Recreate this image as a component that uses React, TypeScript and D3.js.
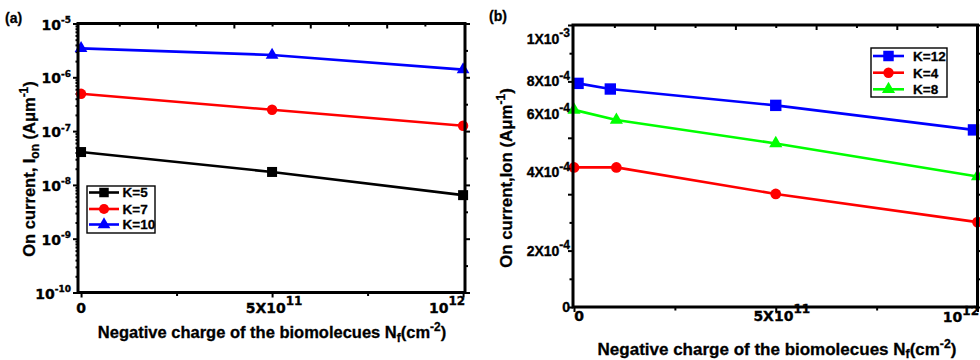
import { useEffect, useRef } from "react";
import * as d3 from "d3";

const FONT = "'Liberation Sans', Arial, sans-serif";
const TICK_FONT = "'DejaVu Sans', sans-serif";

// panel (a): log scale, three K values
const nfA = [0, 5e11, 1e12];
const ionK5 = [4.08e-8, 1.74e-8, 6.45e-9];
const ionK7 = [4.93e-7, 2.49e-7, 1.26e-7];
const ionK10 = [3.45e-6, 2.6e-6, 1.39e-6];
const decadesA = [-10, -9, -8, -7, -6, -5];

// panel (b): linear scale, four charge values
const nfB12 = [1e10, 9e10, 5e11, 9.9e11];
const nfB = [0, 1.05e11, 5e11, 1e12];
const ionK12 = [7.93e-4, 7.73e-4, 7.15e-4, 6.28e-4];
const ionK4 = [4.95e-4, 4.95e-4, 4.01e-4, 3.01e-4];
const ionK8 = [6.99e-4, 6.63e-4, 5.8e-4, 4.63e-4];
const yTicksB = [0, 2e-4, 4e-4, 6e-4, 8e-4, 1e-3];
const yTickBase = ["0", "2X10", "4X10", "6X10", "8X10", "1X10"];
const yTickSup = ["", "-4", "-4", "-4", "-4", "-3"];
// where the original figure actually printed each tick label (it is offset on some)
const yTickLabelAt = [0, 2e-4, 4.77e-4, 6.86e-4, 8e-4, 9.52e-4];

type Shape = "square" | "circle" | "triangle";
interface Series { label: string; color: string; shape: Shape; x: number[]; y: number[] }

const seriesA: Series[] = [
    { label: "K=5", color: "#000000", shape: "square", x: nfA, y: ionK5 },
    { label: "K=7", color: "#ff0000", shape: "circle", x: nfA, y: ionK7 },
    { label: "K=10", color: "#0000ff", shape: "triangle", x: nfA, y: ionK10 },
];
const seriesB: Series[] = [
    { label: "K=12", color: "#0000ff", shape: "square", x: nfB12, y: ionK12 },
    { label: "K=4", color: "#ff0000", shape: "circle", x: nfB, y: ionK4 },
    { label: "K=8", color: "#00ff00", shape: "triangle", x: nfB, y: ionK8 },
];

const symType = { square: d3.symbolSquare, circle: d3.symbolCircle, triangle: d3.symbolTriangle };

type G = d3.Selection<SVGGElement, unknown, null, undefined>;

function supText ( g: G, x: number, y: number, base: string, sup: string, anchor: string, font: string, size: number, supSize: number, rise: number )
{
    const t = g.append( "text" ).attr( "x", x ).attr( "y", y ).attr( "text-anchor", anchor )
        .style( "font-family", font ).style( "font-weight", "bold" ).style( "font-size", `${ size }px` )
        .attr( "fill", "#000" ).attr( "stroke", "#000" ).attr( "stroke-width", 0.35 );
    t.append( "tspan" ).text( base );
    if ( sup ) t.append( "tspan" ).attr( "dy", -rise ).style( "font-size", `${ supSize }px` ).text( sup );
    return t;
}

function drawSeries ( g: G, series: Series[], x: d3.ScaleContinuousNumeric<number, number>, y: d3.ScaleContinuousNumeric<number, number>, sizes: Record<Shape, number> )
{
    const line = d3.line<[ number, number ]>().x( ( d ) => x( d[ 0 ] ) ).y( ( d ) => y( d[ 1 ] ) );
    series.forEach( ( s ) =>
    {
        const pts = s.x.map( ( v, i ) => [ v, s.y[ i ] ] as [ number, number ] );
        g.append( "path" ).attr( "d", line( pts ) ).attr( "fill", "none" ).attr( "stroke", s.color ).attr( "stroke-width", 2.6 );
        g.selectAll( null ).data( pts ).join( "path" )
            .attr( "transform", ( d ) => `translate(${ x( d[ 0 ] ) },${ y( d[ 1 ] ) })` )
            .attr( "d", d3.symbol( symType[ s.shape ], sizes[ s.shape ] )() )
            .attr( "fill", s.color );
    } );
}

function drawLegend ( g: G, series: Series[], box: [ number, number, number, number ], rowY: number[], lineX: [ number, number ], textX: number, sizes: Record<Shape, number> )
{
    g.append( "rect" ).attr( "x", box[ 0 ] ).attr( "y", box[ 1 ] ).attr( "width", box[ 2 ] ).attr( "height", box[ 3 ] )
        .attr( "fill", "#fff" ).attr( "stroke", "#000" ).attr( "stroke-width", 1.4 );
    series.forEach( ( s, i ) =>
    {
        const yy = rowY[ i ];
        g.append( "line" ).attr( "x1", lineX[ 0 ] ).attr( "x2", lineX[ 1 ] ).attr( "y1", yy ).attr( "y2", yy )
            .attr( "stroke", s.color ).attr( "stroke-width", 2.6 );
        g.append( "path" ).attr( "transform", `translate(${ ( lineX[ 0 ] + lineX[ 1 ] ) / 2 },${ yy })` )
            .attr( "d", d3.symbol( symType[ s.shape ], sizes[ s.shape ] )() ).attr( "fill", s.color );
        g.append( "text" ).attr( "x", textX ).attr( "y", yy + 4.8 ).style( "font-family", FONT ).style( "font-weight", "bold" )
            .style( "font-size", "13.5px" ).attr( "stroke", "#000" ).attr( "stroke-width", 0.3 ).text( s.label );
    } );
}

function ticks ( g: G, axis: d3.Axis<number>, tx: number, ty: number )
{
    const a = g.append( "g" ).attr( "transform", `translate(${ tx },${ ty })` ).call( axis as any );
    a.select( ".domain" ).remove();
    a.selectAll( "line" ).attr( "stroke", "#000" ).attr( "stroke-width", 2 );
    a.selectAll( "text" ).remove();
}

function axisTitle ( g: G, tx: number, ty: number, rotate: boolean, parts: [ string, number ][], size: number )
{
    const t = g.append( "text" ).attr( "transform", `translate(${ tx },${ ty })${ rotate ? " rotate(-90)" : "" }` )
        .attr( "text-anchor", "middle" ).style( "font-family", FONT ).style( "font-weight", "bold" ).style( "font-size", `${ size }px` )
        .attr( "stroke", "#000" ).attr( "stroke-width", 0.3 );
    // sub/superscripts shift off the baseline and come back after each
    let cur = 0;
    parts.forEach( ( [ txt, shift ] ) =>
    {
        const sp = t.append( "tspan" ).text( txt ).attr( "dy", shift - cur );
        if ( shift !== 0 ) sp.style( "font-size", `${ size * 0.72 }px` );
        cur = shift;
    } );
}

export default function App ()
{
    const svgRef = useRef<SVGSVGElement>( null );

    useEffect( () =>
    {
        if ( !svgRef.current ) return;
        const svg = d3.select( svgRef.current );
        svg.selectAll( "*" ).remove();
        const root = svg.append( "g" ) as unknown as G;

        // ---------- panel (a) ----------
        const a = { l: 78, r: 465, t: 23.5, b: 292.5 };
        const xA = d3.scaleLinear().domain( [ -0.008e12, 1.005e12 ] ).range( [ a.l, a.r ] );
        const yA = d3.scaleLog().domain( [ 1e-10, 1e-5 ] ).range( [ a.b, a.t ] );

        const minorA: number[] = [];
        decadesA.slice( 0, -1 ).forEach( ( e ) => { for ( let m = 2; m < 10; m++ ) minorA.push( m * Math.pow( 10, e ) ); } );
        const decA = decadesA.map( ( e ) => Math.pow( 10, e ) );
        const halfA = decadesA.slice( 0, -1 ).map( ( e ) => Math.pow( 10, e + 0.5 ) );

        ticks( root, d3.axisLeft<number>( yA ).tickValues( decA ).tickSize( 5 ), a.l, 0 );
        ticks( root, d3.axisLeft<number>( yA ).tickValues( minorA ).tickSize( 2.5 ), a.l, 0 );
        ticks( root, d3.axisLeft<number>( yA ).tickValues( decA ).tickSize( -5 ), a.r, 0 );
        ticks( root, d3.axisLeft<number>( yA ).tickValues( halfA ).tickSize( -3 ), a.r, 0 );
        ticks( root, d3.axisBottom<number>( xA ).tickValues( [ 0, 5e11, 1e12 ] ).tickSize( 5 ), 0, a.b );
        ticks( root, d3.axisBottom<number>( xA ).tickValues( [ 2.5e11, 7.5e11 ] ).tickSize( 3.5 ), 0, a.b );
        ticks( root, d3.axisTop<number>( xA ).tickValues( [ 2e11, 4e11, 6e11, 8e11 ] ).tickSize( -5 ), 0, a.t );
        ticks( root, d3.axisTop<number>( xA ).tickValues( [ 1e11, 3e11, 5e11, 7e11, 9e11 ] ).tickSize( -3 ), 0, a.t );

        drawSeries( root, seriesA, xA, yA, { square: 100, circle: 85, triangle: 70 } );

        root.append( "rect" ).attr( "x", a.l ).attr( "y", a.t ).attr( "width", a.r - a.l ).attr( "height", a.b - a.t )
            .attr( "fill", "none" ).attr( "stroke", "#000" ).attr( "stroke-width", 3 );

        decadesA.forEach( ( e ) => supText( root, 71, yA( Math.pow( 10, e ) ) + 6, "10", `${ e }`, "end", TICK_FONT, 14, 9, 6.5 ) );
        supText( root, xA( 0 ), 312.5, "0", "", "middle", TICK_FONT, 14, 12, 7 );
        supText( root, xA( 5e11 ) + 2, 312.5, "5X10", "11", "middle", TICK_FONT, 14, 12, 7.5 );
        supText( root, xA( 1e12 ) + 2, 312.5, "10", "12", "end", TICK_FONT, 14, 12, 7.5 );

        drawLegend( root, seriesA, [ 87, 186, 68, 47 ], [ 192.5, 209, 224.5 ], [ 89, 119 ], 122.5, { square: 90, circle: 80, triangle: 70 } );

        axisTitle( root, 35, 169, true, [ [ "On current, I", 0 ], [ "on", 4 ], [ " (Aμm", 0 ], [ "-1", -7 ], [ ")", 0 ] ], 16.5 );
        axisTitle( root, 272, 338, false, [ [ "Negative charge of the biomolecues N", 0 ], [ "f", 4 ], [ "(cm", 0 ], [ "-2", -7 ], [ ")", 0 ] ], 16.5 );
        root.append( "text" ).attr( "x", 5 ).attr( "y", 23 ).style( "font-family", FONT ).style( "font-weight", "bold" )
            .style( "font-size", "14px" ).attr( "stroke", "#000" ).attr( "stroke-width", 0.3 ).text( "(a)" );

        // ---------- panel (b) ----------
        const b = { l: 573, r: 977.5, t: 25, b: 307 };
        const xB = d3.scaleLinear().domain( [ -0.0025e12, 1e12 ] ).range( [ b.l, b.r ] );
        const yB = d3.scaleLinear().domain( [ 0, 1e-3 ] ).range( [ b.b, b.t ] );
        const oddB = [ 1e-4, 3e-4, 5e-4, 7e-4, 9e-4 ];

        ticks( root, d3.axisLeft<number>( yB ).tickValues( yTicksB ).tickSize( 5 ), b.l, 0 );
        ticks( root, d3.axisLeft<number>( yB ).tickValues( oddB ).tickSize( 3.5 ), b.l, 0 );
        ticks( root, d3.axisLeft<number>( yB ).tickValues( yTicksB ).tickSize( -5 ), b.r, 0 );
        ticks( root, d3.axisLeft<number>( yB ).tickValues( oddB ).tickSize( -3.5 ), b.r, 0 );
        ticks( root, d3.axisBottom<number>( xB ).tickValues( [ 0, 5e11, 1e12 ] ).tickSize( 5 ), 0, b.b );
        ticks( root, d3.axisBottom<number>( xB ).tickValues( [ 2.5e11, 7.5e11 ] ).tickSize( 3.5 ), 0, b.b );
        ticks( root, d3.axisTop<number>( xB ).tickValues( [ 2e11, 4e11, 6e11, 8e11 ] ).tickSize( -5 ), 0, b.t );
        ticks( root, d3.axisTop<number>( xB ).tickValues( [ 1e11, 3e11, 5e11, 7e11, 9e11 ] ).tickSize( -3 ), 0, b.t );

        drawSeries( root, seriesB, xB, yB, { square: 130, circle: 90, triangle: 75 } );

        root.append( "rect" ).attr( "x", b.l ).attr( "y", b.t ).attr( "width", b.r - b.l ).attr( "height", b.b - b.t )
            .attr( "fill", "none" ).attr( "stroke", "#000" ).attr( "stroke-width", 3 );

        yTickLabelAt.forEach( ( v, i ) => supText( root, 570, yB( v ) + 5, yTickBase[ i ], yTickSup[ i ], "end", FONT, 14, 12, 6.5 ) );
        supText( root, xB( 0 ) + 5, 320.5, "0", "", "middle", TICK_FONT, 14, 12, 7 );
        supText( root, xB( 5e11 ) + 6, 320.5, "5X10", "11", "middle", TICK_FONT, 14, 12, 7.5 );
        supText( root, 979, 322, "10", "12", "end", TICK_FONT, 14, 12, 7.5 );

        drawLegend( root, seriesB, [ 871, 48, 76, 49 ], [ 56, 72.7, 89.3 ], [ 873, 904 ], 913, { square: 110, circle: 85, triangle: 75 } );

        axisTitle( root, 512, 178, true, [ [ "On current,Ion (Aμm", 0 ], [ "-1", -7 ], [ ")", 0 ] ], 16.8 );
        axisTitle( root, 777, 354.5, false, [ [ "Negative charge of the biomolecues N", 0 ], [ "f", 3 ], [ "(cm", 0 ], [ "-2", -7 ], [ ")", 0 ] ], 17 );
        root.append( "text" ).attr( "x", 489 ).attr( "y", 21 ).style( "font-family", FONT ).style( "font-weight", "bold" )
            .style( "font-size", "14px" ).attr( "stroke", "#000" ).attr( "stroke-width", 0.3 ).text( "(b)" );
    }, [] );

    return (
        <svg ref={ svgRef } width={ 980 } height={ 360 }
            style={ { position: "absolute", left: 0, top: 0, background: "#fff" } } />
    );
}
